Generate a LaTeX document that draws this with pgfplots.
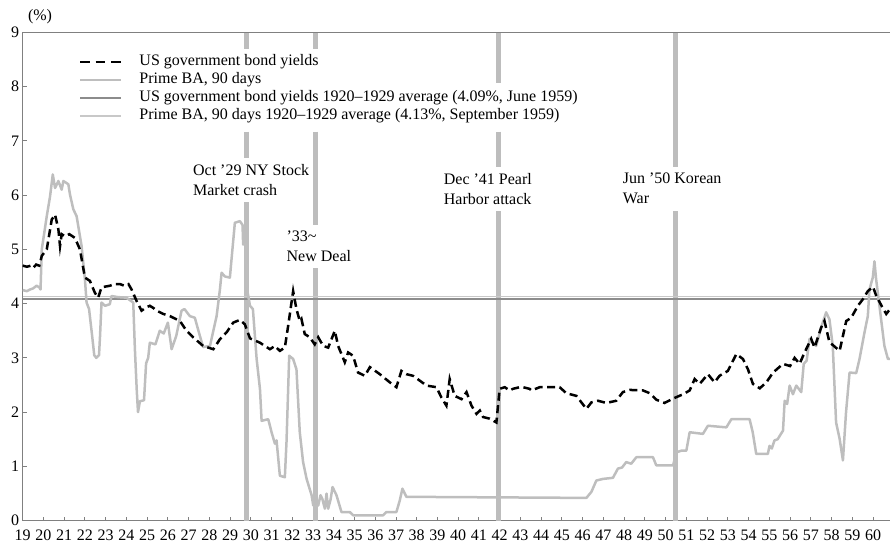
\documentclass[border=0pt]{standalone}
\usepackage{pgfplots}
\pgfplotsset{compat=1.18}
\usepackage{pgfplotstable}
\usepackage{fontspec}
\setmainfont{Liberation Serif}
\definecolor{bargrey}{HTML}{BDBDBD}
\definecolor{primegrey}{HTML}{BEBEBE}
\definecolor{avgdark}{HTML}{8C8C8C}
\definecolor{avglight}{HTML}{C8C8C8}
\definecolor{axgrey}{HTML}{808080}
\newcommand{\chfont}{\fontsize{16bp}{20bp}\selectfont}

\pgfplotstableread{
x y
19.00 4.70
19.20 4.68
19.40 4.70
19.51 4.66
19.65 4.72
19.80 4.70
19.92 4.88
20.16 5.00
20.40 5.55
20.56 5.64
20.72 5.37
20.80 5.06
20.88 5.28
21.04 5.24
21.25 5.28
21.52 5.21
21.76 5.00
22.00 4.48
22.24 4.42
22.48 4.20
22.64 4.11
22.80 4.30
23.20 4.33
23.45 4.36
23.69 4.36
23.90 4.33
24.10 4.36
24.25 4.26
24.49 4.05
24.73 3.87
24.95 3.93
25.13 3.96
25.30 3.92
25.46 3.87
25.78 3.81
26.10 3.77
26.58 3.68
26.90 3.50
27.22 3.38
27.70 3.22
28.19 3.16
28.52 3.35
28.83 3.47
29.15 3.65
29.47 3.70
29.71 3.62
29.96 3.36
30.44 3.28
30.92 3.16
31.16 3.22
31.40 3.13
31.64 3.19
31.80 3.59
32.04 4.23
32.20 3.90
32.36 3.68
32.44 3.72
32.60 3.44
32.84 3.38
33.08 3.25
33.25 3.38
33.49 3.22
33.73 3.19
34.05 3.50
34.21 3.22
34.53 2.92
34.69 3.10
34.93 3.04
35.17 2.73
35.50 2.67
35.74 2.83
36.22 2.70
36.70 2.55
37.02 2.46
37.26 2.76
37.50 2.70
37.82 2.67
38.15 2.58
38.47 2.49
38.95 2.46
39.19 2.27
39.43 2.12
39.59 2.61
39.83 2.30
40.16 2.24
40.40 2.37
40.64 2.12
40.88 1.97
41.04 2.03
41.20 1.91
41.52 1.88
41.84 1.81
42.00 2.43
42.24 2.46
42.48 2.40
42.64 2.43
42.96 2.46
43.13 2.46
43.44 2.43
43.53 2.40
43.93 2.46
44.41 2.46
44.89 2.46
45.21 2.35
45.70 2.30
45.94 2.18
46.18 2.06
46.42 2.18
46.74 2.21
47.14 2.17
47.62 2.21
47.94 2.37
48.27 2.41
48.91 2.40
49.23 2.35
49.55 2.23
49.95 2.17
50.36 2.25
50.84 2.33
51.16 2.40
51.40 2.61
51.64 2.52
52.04 2.70
52.36 2.55
52.60 2.67
53.00 2.76
53.41 3.07
53.73 2.98
53.97 2.79
54.21 2.52
54.54 2.44
54.86 2.55
55.18 2.73
55.66 2.89
56.00 2.85
56.22 3.00
56.46 2.89
56.70 3.10
57.02 3.35
57.18 3.19
57.50 3.56
57.66 3.68
57.90 3.29
58.39 3.13
58.71 3.68
58.95 3.74
59.27 3.96
59.51 4.08
59.75 4.23
60.00 4.31
60.16 4.14
60.47 3.92
60.64 3.81
60.82 3.90
}\bond

\pgfplotstableread{
x y
19.00 4.25
19.20 4.23
19.35 4.26
19.50 4.28
19.67 4.33
19.80 4.30
19.86 4.26
19.92 5.00
20.16 5.61
20.32 5.98
20.45 6.38
20.56 6.13
20.72 6.26
20.88 6.10
20.96 6.26
21.20 6.20
21.28 6.01
21.44 5.74
21.60 5.61
21.84 5.06
22.00 4.45
22.08 4.02
22.20 3.90
22.35 3.40
22.45 3.05
22.55 3.00
22.68 3.05
22.73 3.41
22.80 4.02
22.97 3.96
23.20 3.99
23.28 4.14
23.60 4.12
24.00 4.11
24.33 4.02
24.41 3.16
24.50 2.40
24.56 2.00
24.65 2.20
24.85 2.22
24.95 2.90
25.05 3.00
25.13 3.28
25.40 3.25
25.61 3.50
25.80 3.45
26.00 3.65
26.18 3.16
26.40 3.40
26.66 3.87
26.80 3.90
27.06 3.77
27.30 3.74
27.54 3.41
27.70 3.20
28.03 3.22
28.35 3.77
28.51 4.26
28.59 4.57
28.75 4.50
28.99 4.48
29.07 4.82
29.23 5.49
29.47 5.52
29.60 5.45
29.63 5.09
29.75 5.10
29.85 4.20
29.96 3.96
30.10 3.90
30.28 2.98
30.44 2.43
30.52 1.84
30.84 1.87
31.00 1.63
31.16 1.42
31.24 1.48
31.40 0.83
31.64 0.80
31.72 1.45
31.85 3.04
32.04 2.98
32.20 2.79
32.36 1.63
32.52 1.08
32.69 0.77
32.93 0.47
33.01 0.28
33.25 0.28
33.36 0.47
33.45 0.40
33.57 0.22
33.65 0.50
33.73 0.22
33.85 0.40
33.94 0.62
34.13 0.47
34.37 0.16
34.77 0.16
34.93 0.10
36.38 0.10
36.54 0.16
37.02 0.16
37.18 0.37
37.31 0.59
37.50 0.44
46.18 0.42
46.42 0.53
46.66 0.74
46.98 0.77
47.46 0.79
47.70 0.96
47.90 0.98
48.10 1.08
48.34 1.05
48.59 1.17
49.39 1.17
49.55 1.02
50.36 1.02
50.52 1.26
50.76 1.29
51.00 1.29
51.16 1.63
51.80 1.60
52.04 1.75
52.93 1.72
53.17 1.87
54.05 1.87
54.20 1.63
54.37 1.23
54.93 1.23
55.01 1.38
55.12 1.33
55.25 1.48
55.40 1.50
55.66 1.66
55.74 2.21
55.86 2.15
55.98 2.49
56.14 2.33
56.30 2.49
56.54 2.37
56.66 2.89
56.80 2.95
56.94 3.35
57.05 3.30
57.26 3.22
57.50 3.56
57.74 3.84
57.90 3.71
58.06 3.22
58.22 1.81
58.39 1.51
58.55 1.11
58.70 2.00
58.87 2.73
59.19 2.72
59.35 2.98
59.59 3.47
59.75 3.77
59.83 4.26
59.93 4.40
59.99 4.48
60.07 4.78
60.15 4.45
60.31 3.96
60.55 3.22
60.72 2.98
60.88 2.98
}\prime

\begin{document}
\begin{tikzpicture}
\begin{axis}[
  name=ax,
  scale only axis,
  width=867.3bp, height=488.4bp,
  xmin=19, xmax=60.82, ymin=0, ymax=9,
  clip mode=individual,
  axis x line*=bottom, axis y line*=left,
  axis line style={axgrey, line width=1.5bp},
  xtick={19,...,60}, ytick={0,...,9},
  major tick length=4bp,
  tick style={axgrey, line width=1bp},
  tick label style={font=\chfont},
  /pgf/number format/assume math mode=true,
  xticklabel style={yshift=-6bp},
  legend style={at={(axis description cs:0.0649,0.9577)}, anchor=north west,
    draw=none, fill=none, inner sep=0pt, outer sep=0pt, row sep=0pt,
    column sep=17bp, font=\chfont,
    nodes={inner sep=0pt, text height=12.5bp, text depth=5.5bp}},
  legend cell align=left,
  legend image code/.code={\draw[#1] (0bp,0bp) -- (41bp,0bp);},
]
% event bars
\draw[bargrey, line width=5bp] (axis cs:29.81,9) -- (axis cs:29.81,8.70);
\draw[bargrey, line width=5bp] (axis cs:29.81,7.17) -- (axis cs:29.81,0);
\draw[bargrey, line width=5bp] (axis cs:33.13,9) -- (axis cs:33.13,8.70);
\draw[bargrey, line width=5bp] (axis cs:33.13,7.17) -- (axis cs:33.13,0);
\draw[bargrey, line width=5bp] (axis cs:41.95,9) -- (axis cs:41.95,8.06);
\draw[bargrey, line width=5bp] (axis cs:41.95,7.17) -- (axis cs:41.95,0);
\draw[bargrey, line width=5bp] (axis cs:50.47,9) -- (axis cs:50.47,0);
% annotations
\node[anchor=north west, align=left, fill=white, inner xsep=1bp, inner ysep=6.5bp, font=\chfont] at (axis cs:27.16,6.683) {Oct ’29 NY Stock\\Market crash};
\node[anchor=north west, align=left, fill=white, inner xsep=1bp, inner ysep=6bp, font=\chfont] at (axis cs:31.67,5.449) {’33\textasciitilde\\New Deal};
\node[anchor=north west, align=left, fill=white, inner xsep=1bp, inner ysep=6.5bp, font=\chfont] at (axis cs:39.25,6.527) {Dec ’41 Pearl\\Harbor attack};
\node[anchor=north west, align=left, fill=white, inner xsep=1bp, inner ysep=6.5bp, font=\chfont] at (axis cs:47.88,6.527) {Jun ’50 Korean\\War};
% averages
\addplot[avgdark, line width=1.5bp, forget plot] coordinates {(19,4.09) (60.82,4.09)};
\addplot[avglight, line width=1.2bp, forget plot] coordinates {(19,4.13) (60.82,4.13)};
% series
\addplot[primegrey, line width=2.5bp, line join=round, forget plot] table[x=x,y=y] {\prime};
\addplot[black, line width=2.5bp, dash pattern=on 8bp off 4.5bp, forget plot] table[x=x,y=y] {\bond};
% legend
\addlegendimage{black, line width=2.5bp, dash pattern=on 9.5bp off 6bp}
\addlegendentry{US government bond yields}
\addlegendimage{primegrey, line width=2.5bp}
\addlegendentry{Prime BA, 90 days}
\addlegendimage{avgdark, line width=1.5bp}
\addlegendentry{US government bond yields 1920–1929 average (4.09\%, June 1959)}
\addlegendimage{avglight, line width=1.2bp}
\addlegendentry{Prime BA, 90 days 1920–1929 average (4.13\%, September 1959)}
% top frame and unit label
\draw[axgrey, line width=1.5bp] (rel axis cs:0,1) -- (rel axis cs:1,1);
\node[font=\chfont] at (rel axis cs:0,1) [xshift=17.3bp, yshift=15.3bp] {(\%)};
\end{axis}
\pgfresetboundingbox
\path[use as bounding box] ([xshift=-22.7bp,yshift=-28.3bp]ax.south west) rectangle ++(890bp,549bp);
\end{tikzpicture}
\end{document}
